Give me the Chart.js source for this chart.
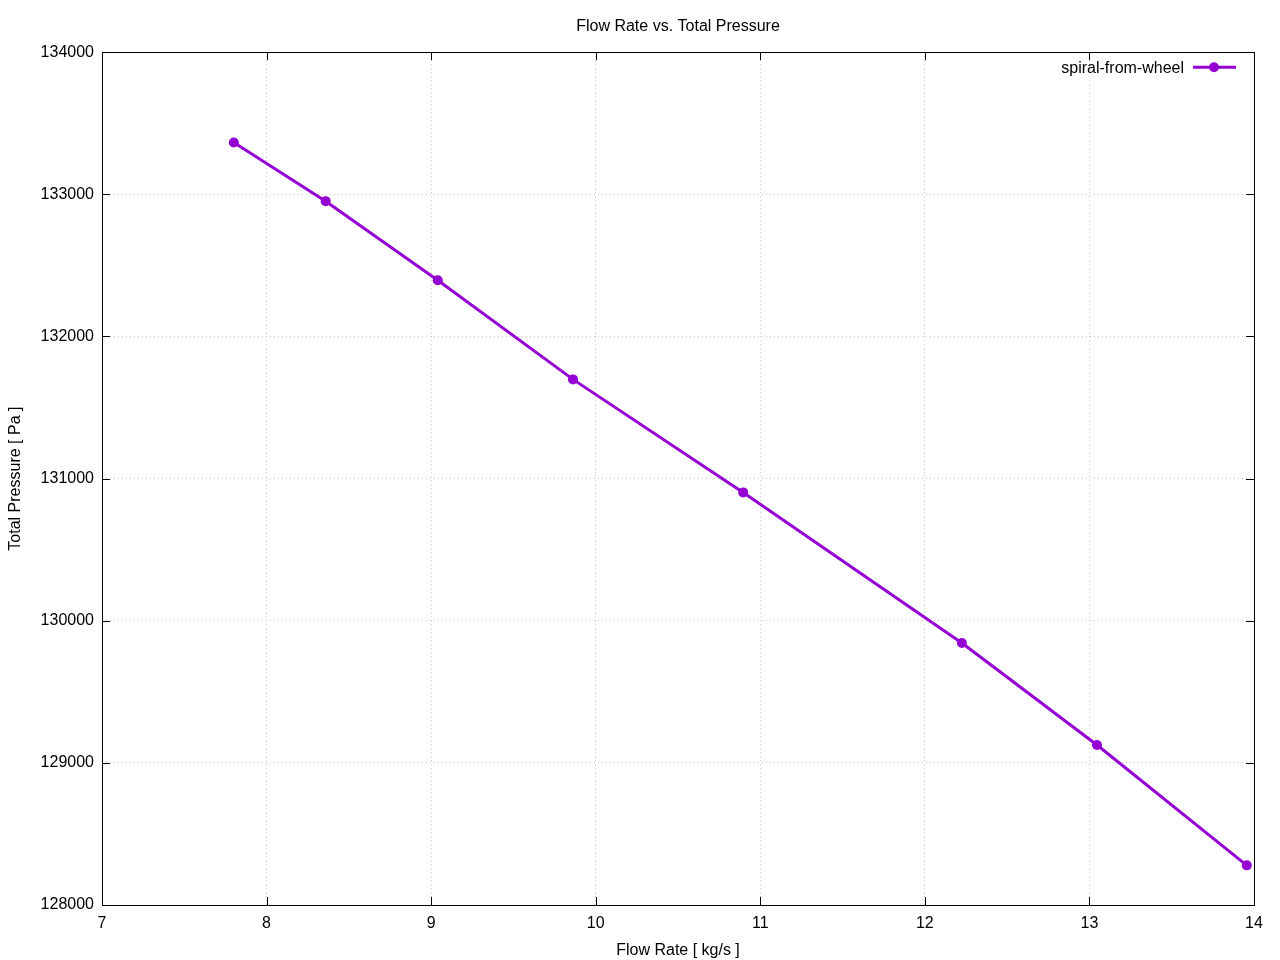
<!DOCTYPE html>
<html>
<head>
<meta charset="utf-8">
<script src="https://cdn.jsdelivr.net/npm/chart.js@4/dist/chart.umd.min.js"></script>
<style>
  html, body { margin: 0; padding: 0; background: #fff; }
  canvas { display: block; }
</style>
</head>
<body>
<canvas id="chart" width="1280" height="960"></canvas>
<script>
// data
const flowRate = [7.801, 8.359, 9.040, 9.862, 10.896, 12.225, 13.046, 13.956];
const totalPressure = [133365, 132952, 132396, 131698, 130903, 129843, 129126, 128279];
const seriesName = 'spiral-from-wheel';
const xTicks = [7, 8, 9, 10, 11, 12, 13, 14];
const yTicks = [128000, 129000, 130000, 131000, 132000, 133000, 134000];

const FONT = '"Liberation Sans", Arial, sans-serif';
const COLOR = '#9400d3';

// frame, inward tick marks and gnuplot-like key
const framePlugin = {
    id: 'frame',
    afterDraw(chart) {
        const ctx = chart.ctx;
        const a = chart.chartArea;
        const xs = chart.scales.x, ys = chart.scales.y;
        const tl = 8;
        ctx.save();
        ctx.strokeStyle = '#000';
        ctx.lineWidth = 1;
        ctx.setLineDash([]);
        ctx.beginPath();
        xs.ticks.forEach(t => {
            const px = Math.round(xs.getPixelForValue(t.value)) + 0.5;
            ctx.moveTo(px, a.bottom); ctx.lineTo(px, a.bottom - tl);
            ctx.moveTo(px, a.top); ctx.lineTo(px, a.top + tl);
        });
        ys.ticks.forEach(t => {
            const py = Math.round(ys.getPixelForValue(t.value)) + 0.5;
            ctx.moveTo(a.left, py); ctx.lineTo(a.left + tl, py);
            ctx.moveTo(a.right, py); ctx.lineTo(a.right - tl, py);
        });
        ctx.stroke();
        ctx.strokeRect(Math.round(a.left) + 0.5, Math.round(a.top) + 0.5,
            Math.round(a.right - a.left), Math.round(a.bottom - a.top));

        // key
        const ky = a.top + 15;
        ctx.fillStyle = '#000';
        ctx.font = '16px ' + FONT;
        ctx.textAlign = 'right';
        ctx.textBaseline = 'middle';
        ctx.fillText(seriesName, a.right - 70, ky + 1);
        ctx.strokeStyle = COLOR;
        ctx.lineWidth = 3;
        ctx.beginPath();
        ctx.moveTo(a.right - 61, ky);
        ctx.lineTo(a.right - 18, ky);
        ctx.stroke();
        ctx.fillStyle = COLOR;
        ctx.beginPath();
        ctx.arc(a.right - 40, ky, 5, 0, Math.PI * 2);
        ctx.fill();
        ctx.restore();
    }
};

new Chart(document.getElementById('chart'), {
    type: 'scatter',
    data: {
        datasets: [{
            label: seriesName,
            data: flowRate.map((x, i) => ({ x: x, y: totalPressure[i] })),
            showLine: true,
            borderColor: COLOR,
            backgroundColor: COLOR,
            borderWidth: 3,
            pointRadius: 5,
            pointHoverRadius: 5,
            pointBorderWidth: 0,
            tension: 0
        }]
    },
    options: {
        responsive: false,
        animation: false,
        events: [],
        layout: { padding: { left: 0, right: 26, top: 0, bottom: 0 } },
        plugins: {
            legend: { display: false },
            tooltip: { enabled: false },
            title: {
                display: true,
                text: 'Flow Rate vs. Total Pressure',
                fullSize: false,
                color: '#000',
                font: { family: FONT, size: 16, weight: 'normal' },
                padding: { top: 17, bottom: 16 }
            }
        },
        scales: {
            x: {
                type: 'linear',
                min: xTicks[0],
                max: xTicks[xTicks.length - 1],
                afterBuildTicks: s => { s.ticks = xTicks.map(v => ({ value: v })); },
                afterFit: s => { s.height = 55; },
                grid: { color: '#c8c8c8', drawTicks: false, lineWidth: 1 },
                border: { display: false, dash: [1, 3] },
                ticks: { color: '#000', padding: 9, font: { family: FONT, size: 16 } },
                title: {
                    display: true,
                    text: 'Flow Rate [ kg/s ]',
                    color: '#000',
                    font: { family: FONT, size: 16 },
                    padding: { top: 0, bottom: 0 }
                }
            },
            y: {
                type: 'linear',
                min: yTicks[0],
                max: yTicks[yTicks.length - 1],
                afterBuildTicks: s => { s.ticks = yTicks.map(v => ({ value: v })); },
                afterFit: s => { s.width = 102; },
                grid: { color: '#c8c8c8', drawTicks: false, lineWidth: 1 },
                border: { display: false, dash: [1, 3] },
                ticks: { color: '#000', padding: 8, font: { family: FONT, size: 16 },
                         callback: v => String(v) },
                title: {
                    display: true,
                    text: 'Total Pressure [ Pa ]',
                    color: '#000',
                    font: { family: FONT, size: 16 },
                    padding: { top: 6, bottom: 0 }
                }
            }
        }
    },
    plugins: [framePlugin]
});
</script>
</body>
</html>
